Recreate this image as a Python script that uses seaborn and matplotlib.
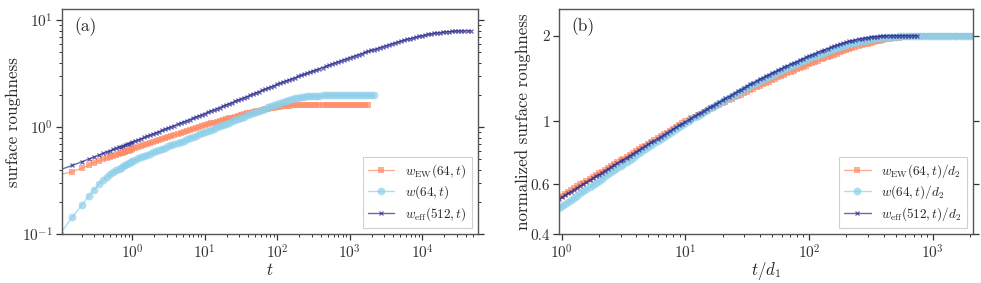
import numpy as np
import pandas as pd
import matplotlib
matplotlib.use("Agg")
import matplotlib.pyplot as plt
import seaborn as sns
from matplotlib.ticker import LogLocator, FixedLocator, NullLocator, FixedFormatter, NullFormatter

# ---------------- data ----------------
# panel (a): time grid
T_A = [0.1, 0.15, 0.2, 0.25, 0.3, 0.35, 0.4, 0.45, 0.5, 0.55, 0.6, 0.65, 0.7, 0.75, 0.8, 0.85, 0.9, 0.95, 1.0,
       1.1, 1.21, 1.33, 1.47, 1.62, 1.78, 1.96, 2.15, 2.37, 2.61, 2.87, 3.16, 3.48, 3.83, 4.22, 4.64, 5.11, 5.62, 6.19, 6.81, 7.5, 8.25, 9.09, 10,
       11, 12.1, 13.3, 14.7, 16.2, 17.8, 19.6, 21.5, 23.7, 26.1, 28.7, 31.6, 34.8, 38.3, 42.2, 46.4, 51.1, 56.2, 61.9, 68.1, 75, 82.5, 90.9, 100,
       110, 121, 133, 147, 162, 178, 196, 215, 237, 261, 287, 316, 348, 383, 422, 464, 511, 562, 619, 681, 750, 825, 909, 1000,
       1100, 1210, 1330, 1470, 1620, 1780, 1960, 2150, 2370, 2610, 2870, 3160, 3480, 3830, 4220, 4640, 5110, 5620, 6190, 6810, 7500, 8250, 9090, 10000,
       11000, 12100, 13300, 14700, 16200, 17800, 19600, 21500, 23700, 26100, 28700, 31600, 34800, 38300, 42200, 46400]

# w_eff(512, t)
W_EFF_A = [0.40, 0.44, 0.475, 0.505, 0.53, 0.55, 0.57, 0.59, 0.605, 0.62, 0.635, 0.65, 0.66, 0.67, 0.685, 0.695, 0.705, 0.715, 0.725,
           0.744, 0.763, 0.783, 0.803, 0.824, 0.845, 0.867, 0.89, 0.912, 0.935, 0.96, 0.985, 1.011, 1.037, 1.063, 1.09, 1.119, 1.148, 1.178, 1.208, 1.24, 1.272, 1.306, 1.34,
           1.376, 1.412, 1.45, 1.489, 1.528, 1.569, 1.611, 1.654, 1.698, 1.743, 1.789, 1.837, 1.886, 1.936, 1.987, 2.04, 2.094, 2.15, 2.208, 2.267, 2.328, 2.39, 2.454, 2.52,
           2.581, 2.644, 2.708, 2.774, 2.841, 2.91, 2.98, 3.052, 3.126, 3.202, 3.279, 3.358, 3.44, 3.523, 3.608, 3.695, 3.785, 3.876, 3.97, 4.066, 4.165, 4.265, 4.366, 4.47,
           4.57, 4.67, 4.775, 4.88, 4.99, 5.10, 5.21, 5.32, 5.435, 5.55, 5.665, 5.78, 5.90, 6.02, 6.14, 6.26, 6.38, 6.50, 6.615, 6.73, 6.84, 6.95, 7.055, 7.16,
           7.26, 7.36, 7.45, 7.53, 7.60, 7.67, 7.73, 7.78, 7.82, 7.86, 7.89, 7.91, 7.93, 7.94, 7.945, 7.95]

# w_EW(64, t)
W_EW_A = [0.36, 0.385, 0.415, 0.44, 0.465, 0.485, 0.50, 0.515, 0.53, 0.54, 0.55, 0.56, 0.57, 0.58, 0.59, 0.597, 0.605, 0.612, 0.62,
          0.634, 0.648, 0.662, 0.677, 0.692, 0.707, 0.723, 0.739, 0.755, 0.772, 0.789, 0.806, 0.824, 0.842, 0.861, 0.88, 0.899, 0.918, 0.938, 0.958, 0.979, 1.0, 1.022, 1.045,
          1.065, 1.085, 1.105, 1.125, 1.147, 1.17, 1.19, 1.21, 1.232, 1.255, 1.277, 1.30, 1.322, 1.345, 1.368, 1.39, 1.41, 1.43, 1.45, 1.47, 1.49, 1.51, 1.528, 1.545,
          1.558, 1.57, 1.58, 1.59, 1.598, 1.605, 1.609, 1.613, 1.616, 1.618, 1.619, 1.62, 1.62, 1.62, 1.62, 1.62, 1.62, 1.62, 1.62, 1.62, 1.62, 1.62, 1.62, 1.62,
          1.62, 1.62, 1.62, 1.62, 1.62, 1.62]

# w(64, t)
W_A = [0.10, 0.145, 0.187, 0.226, 0.262, 0.295, 0.322, 0.345, 0.365, 0.38, 0.395, 0.41, 0.42, 0.435, 0.445, 0.455, 0.465, 0.475, 0.485,
       0.498, 0.511, 0.524, 0.538, 0.552, 0.566, 0.581, 0.596, 0.612, 0.628, 0.644, 0.661, 0.678, 0.696, 0.714, 0.733, 0.752, 0.772, 0.792, 0.813, 0.834, 0.856, 0.878, 0.90,
       0.924, 0.948, 0.973, 0.998, 1.024, 1.05, 1.077, 1.105, 1.134, 1.163, 1.193, 1.224, 1.256, 1.288, 1.321, 1.355, 1.388, 1.42, 1.455, 1.495, 1.535, 1.575, 1.617, 1.66,
       1.695, 1.73, 1.765, 1.80, 1.83, 1.86, 1.886, 1.91, 1.926, 1.94, 1.951, 1.96, 1.968, 1.975, 1.98, 1.985, 1.988, 1.99, 1.993, 1.995, 1.997, 2.0, 2.0, 2.0,
       2.0, 2.0, 2.0, 2.0, 2.0, 2.0, 2.0, 2.0]

# panel (b): rescaled time grid t/d1
T_B = [0.95,
       1.0, 1.06, 1.12, 1.19, 1.26, 1.33, 1.41, 1.5, 1.58, 1.68, 1.78, 1.88, 2.0, 2.11, 2.24, 2.37, 2.51, 2.66, 2.82, 2.99,
       3.16, 3.35, 3.55, 3.76, 3.98, 4.22, 4.47, 4.73, 5.01, 5.31, 5.62, 5.96, 6.31, 6.68, 7.08, 7.5, 7.94, 8.41, 8.91, 9.44,
       10, 10.6, 11.2, 11.9, 12.6, 13.3, 14.1, 15, 15.8, 16.8, 17.8, 18.8, 20, 21.1, 22.4, 23.7, 25.1, 26.6, 28.2, 29.9,
       31.6, 33.5, 35.5, 37.6, 39.8, 42.2, 44.7, 47.3, 50.1, 53.1, 56.2, 59.6, 63.1, 66.8, 70.8, 75, 79.4, 84.1, 89.1, 94.4,
       100, 106, 112, 119, 126, 133, 141, 150, 158, 168, 178, 188, 200, 211, 224, 237, 251, 266, 282, 299,
       316, 335, 355, 376, 398, 422, 447, 473, 501, 531, 562, 596, 631, 668, 708, 750, 794, 841, 891, 944,
       1000, 1060, 1120, 1190, 1260, 1330, 1410, 1500, 1580, 1680, 1780, 1880, 2000, 2110, 2240]

# w_eff(512, t)/d2
W_EFF_B = [0.533,
           0.540, 0.548, 0.557, 0.565, 0.574, 0.583, 0.592, 0.601, 0.610, 0.619, 0.629, 0.639, 0.649, 0.659, 0.669, 0.679, 0.690, 0.700, 0.711, 0.722,
           0.733, 0.744, 0.756, 0.768, 0.780, 0.792, 0.804, 0.816, 0.829, 0.842, 0.855, 0.868, 0.881, 0.895, 0.909, 0.923, 0.937, 0.951, 0.966, 0.981,
           0.996, 1.011, 1.027, 1.042, 1.057, 1.072, 1.088, 1.103, 1.119, 1.135, 1.152, 1.168, 1.185, 1.202, 1.219, 1.237, 1.255, 1.273, 1.291, 1.31,
           1.328, 1.347, 1.366, 1.385, 1.405, 1.422, 1.44, 1.457, 1.475, 1.492, 1.51, 1.528, 1.547, 1.565, 1.584, 1.602, 1.621, 1.64, 1.658, 1.676,
           1.695, 1.712, 1.73, 1.748, 1.765, 1.782, 1.80, 1.818, 1.835, 1.85, 1.865, 1.88, 1.895, 1.908, 1.92, 1.931, 1.942, 1.951, 1.96, 1.968,
           1.975, 1.98, 1.985, 1.989, 1.992, 1.994, 1.996, 1.997, 1.998, 1.999, 2.0, 2.0, 2.0, 2.0, 2.0, 2.0]

# w_EW(64, t)/d2, starting at T_B[1]
EW_B_START = 1
W_EW_B = [0.547, 0.555, 0.564, 0.572, 0.581, 0.59, 0.599, 0.608, 0.617, 0.626, 0.636, 0.645, 0.655, 0.665, 0.675, 0.685, 0.696, 0.706, 0.717, 0.728,
          0.739, 0.75, 0.762, 0.773, 0.785, 0.797, 0.809, 0.821, 0.834, 0.846, 0.859, 0.872, 0.885, 0.898, 0.912, 0.926, 0.94, 0.954, 0.969, 0.983,
          0.998, 1.01, 1.023, 1.035, 1.048, 1.061, 1.074, 1.087, 1.10, 1.113, 1.127, 1.141, 1.155, 1.169, 1.183, 1.197, 1.212, 1.226, 1.241, 1.256,
          1.271, 1.286, 1.301, 1.316, 1.332, 1.347, 1.363, 1.378, 1.394, 1.409, 1.425, 1.441, 1.457, 1.473, 1.489, 1.505, 1.521, 1.537, 1.553, 1.569,
          1.585, 1.601, 1.617, 1.633, 1.649, 1.665, 1.681, 1.697, 1.713, 1.729, 1.745, 1.76, 1.776, 1.791, 1.806, 1.82, 1.835, 1.848, 1.862, 1.875,
          1.887, 1.898, 1.91, 1.92, 1.93, 1.939, 1.948, 1.955, 1.962, 1.968, 1.974, 1.978, 1.983, 1.986, 1.99, 1.992, 1.995, 1.997, 1.998, 1.999,
          2.0, 2.0, 2.0, 2.0, 2.0, 2.0, 2.0, 2.0, 2.0, 2.0, 2.0, 2.0, 2.0, 2.0, 2.0]

# w(64, t)/d2
W_B = [0.495,
       0.503, 0.511, 0.52, 0.529, 0.538, 0.547, 0.557, 0.566, 0.576, 0.586, 0.596, 0.606, 0.617, 0.628, 0.639, 0.65, 0.661, 0.672, 0.684, 0.696,
       0.708, 0.72, 0.733, 0.745, 0.758, 0.771, 0.784, 0.797, 0.811, 0.824, 0.838, 0.852, 0.866, 0.88, 0.895, 0.91, 0.925, 0.94, 0.956, 0.972,
       0.988, 1.002, 1.017, 1.032, 1.047, 1.062, 1.078, 1.093, 1.109, 1.125, 1.141, 1.157, 1.174, 1.19, 1.207, 1.224, 1.241, 1.258, 1.276, 1.293,
       1.311, 1.329, 1.347, 1.365, 1.383, 1.401, 1.419, 1.436, 1.454, 1.471, 1.489, 1.506, 1.524, 1.541, 1.559, 1.576, 1.594, 1.611, 1.628, 1.645,
       1.662, 1.678, 1.695, 1.711, 1.728, 1.744, 1.76, 1.775, 1.79, 1.805, 1.82, 1.835, 1.85, 1.864, 1.877, 1.889, 1.90, 1.91, 1.92, 1.93,
       1.94, 1.948, 1.955, 1.962, 1.968, 1.973, 1.978, 1.982, 1.985, 1.988, 1.99, 1.992, 1.994, 1.996, 1.997, 1.999, 2.0, 2.0, 2.0, 2.0,
       2.0, 2.0, 2.0, 2.0, 2.0, 2.0, 2.0, 2.0, 2.0, 2.0, 2.0, 2.0, 2.0, 2.0, 2.0]

LABELS_A = [r"$w_{\mathrm{EW}}(64,t)$", r"$w(64,t)$", r"$w_{\mathrm{eff}}(512,t)$"]
LABELS_B = [r"$w_{\mathrm{EW}}(64,t)/d_2$", r"$w(64,t)/d_2$", r"$w_{\mathrm{eff}}(512,t)/d_2$"]
YTICKS_B = [0.4, 0.6, 1, 2]
YTICKLABELS_B = ["0.4", "0.6", "1", "2"]

# ---------------- style ----------------
sns.set_theme(style="ticks")
plt.rcParams.update({
    "font.family": ["serif"],
    "font.serif": ["cmr10"],
    "mathtext.fontset": "cm",
    "axes.formatter.use_mathtext": True,
    "axes.unicode_minus": False,
    "font.size": 11,
    "axes.edgecolor": "#555555",
    "axes.linewidth": 1.0,
    "xtick.color": "#333333",
    "ytick.color": "#333333",
    "xtick.labelsize": 11,
    "ytick.labelsize": 11,
    "axes.labelsize": 12.2,
})

C_EW = "#ff8a65"
C_W = "#8ccfea"
C_EFF = "#2a2a8e"

fig = plt.figure(figsize=(9.81, 2.83), dpi=100)
axA = fig.add_axes([0.0627, 0.172, 0.4241, 0.796])
axB = fig.add_axes([0.5698, 0.172, 0.4217, 0.796])


def draw(ax, xs, ys, color, marker, ms, label, mew=0.0):
    df = pd.DataFrame({"x": xs, "y": ys})
    sns.lineplot(data=df, x="x", y="y", ax=ax, color=color, marker=marker, markersize=ms,
                 markeredgewidth=mew, markeredgecolor=color, alpha=0.7, linewidth=1.0,
                 label=label, estimator=None, sort=False)


# panel (a)
draw(axA, T_A[:len(W_EW_A)], W_EW_A, C_EW, "s", 4.6, LABELS_A[0])
draw(axA, T_A[:len(W_A)], W_A, C_W, "o", 5.6, LABELS_A[1])
draw(axA, T_A[:len(W_EFF_A)], W_EFF_A, C_EFF, "x", 3.2, LABELS_A[2], mew=0.9)

# panel (b)
draw(axB, T_B[EW_B_START:EW_B_START + len(W_EW_B)], W_EW_B, C_EW, "s", 4.6, LABELS_B[0])
draw(axB, T_B[:len(W_B)], W_B, C_W, "o", 5.6, LABELS_B[1])
draw(axB, T_B[:len(W_EFF_B)], W_EFF_B, C_EFF, "x", 3.2, LABELS_B[2], mew=0.9)

for ax in (axA, axB):
    ax.set_xscale("log")
    ax.set_yscale("log")
    ax.tick_params(which="both", right=True, top=False, direction="out")
    ax.tick_params(which="major", length=4, width=0.9, pad=2.5)
    ax.tick_params(which="minor", length=2.2, width=0.7)
    for s in ax.spines.values():
        s.set_color("#555555")

axA.set_xlim(0.106, 58000)
axA.set_ylim(0.1, 12.7)
axA.xaxis.set_major_locator(LogLocator(base=10, numticks=20))
axA.xaxis.set_minor_locator(LogLocator(base=10, subs=np.arange(2, 10), numticks=20))
axA.xaxis.set_minor_formatter(NullFormatter())
axA.set_xlabel(r"$t$", labelpad=0)
axA.set_ylabel("surface roughness", labelpad=0.5)
axA.text(0.03, 0.965, "(a)", transform=axA.transAxes, fontsize=12.5, va="top", ha="left")

axB.set_xlim(0.951, 2100)
axB.set_ylim(0.4, 2.48)
axB.xaxis.set_major_locator(LogLocator(base=10, numticks=20))
axB.xaxis.set_minor_locator(LogLocator(base=10, subs=np.arange(2, 10), numticks=20))
axB.xaxis.set_minor_formatter(NullFormatter())
axB.yaxis.set_major_locator(FixedLocator(YTICKS_B))
axB.yaxis.set_major_formatter(FixedFormatter(YTICKLABELS_B))
axB.yaxis.set_minor_locator(NullLocator())
axB.set_xlabel(r"$t/d_1$", labelpad=-1)
axB.set_ylabel("normalized surface roughness", labelpad=-0.5)
axB.text(0.03, 0.965, "(b)", transform=axB.transAxes, fontsize=12.5, va="top", ha="left")

for ax in (axA, axB):
    leg = ax.legend(loc="lower right", fontsize=9.5, frameon=True, fancybox=False,
                    edgecolor="#cccccc", framealpha=0.9, borderpad=0.4, handlelength=2.0,
                    labelspacing=0.3, borderaxespad=0.45)
    leg.get_frame().set_linewidth(0.8)

fig.savefig("out.png", dpi=100)
